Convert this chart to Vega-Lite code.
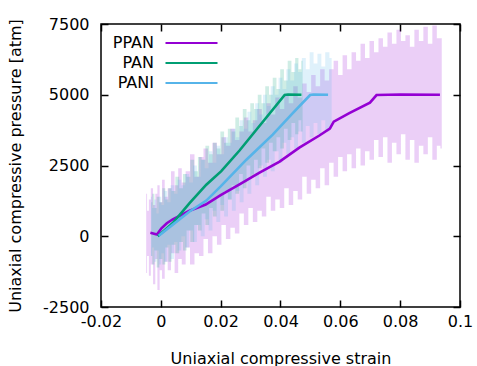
{
  "$schema": "https://vega.github.io/schema/vega-lite/v6.json",
  "width": 359,
  "height": 283,
  "autosize": {"type": "none"},
  "padding": {"left": 101, "top": 24, "right": 17, "bottom": 59},
  "config": {
    "view": {"stroke": "#000", "strokeWidth": 1.5},
    "font": "DejaVu Sans",
    "axis": {"grid": false, "domain": false, "tickColor": "#000", "tickWidth": 1.5, "labelColor": "#000", "titleColor": "#000", "labelFontSize": 16, "titleFontSize": 16, "titleFontWeight": "normal", "labelFont": "DejaVu Sans", "titleFont": "DejaVu Sans", "labelFlush": false, "labelOverlap": false}
  },
  "datasets": {
    "bands": [
      {"band": "PPAN", "strain": -0.0049, "lo": -1300, "hi": 1500},
      {"band": "PPAN", "strain": -0.0043, "lo": -700, "hi": 900},
      {"band": "PPAN", "strain": -0.0037, "lo": -1400, "hi": 1300},
      {"band": "PPAN", "strain": -0.003, "lo": -1000, "hi": 1700},
      {"band": "PPAN", "strain": -0.0022, "lo": -1700, "hi": 1100},
      {"band": "PPAN", "strain": -0.0015, "lo": -800, "hi": 1500},
      {"band": "PPAN", "strain": -0.0008, "lo": -1900, "hi": 1800},
      {"band": "PPAN", "strain": 0.0, "lo": -1200, "hi": 1200},
      {"band": "PPAN", "strain": 0.0008, "lo": -1500, "hi": 2000},
      {"band": "PPAN", "strain": 0.0018, "lo": -900, "hi": 1400},
      {"band": "PPAN", "strain": 0.0028, "lo": -1200, "hi": 1700},
      {"band": "PPAN", "strain": 0.004, "lo": -600, "hi": 2300},
      {"band": "PPAN", "strain": 0.0052, "lo": -1300, "hi": 1800},
      {"band": "PPAN", "strain": 0.0064, "lo": -800, "hi": 2400},
      {"band": "PPAN", "strain": 0.0076, "lo": -1000, "hi": 1900},
      {"band": "PPAN", "strain": 0.009, "lo": -400, "hi": 2300},
      {"band": "PPAN", "strain": 0.0105, "lo": -1000, "hi": 2900},
      {"band": "PPAN", "strain": 0.012, "lo": -600, "hi": 2100},
      {"band": "PPAN", "strain": 0.0135, "lo": -700, "hi": 2800},
      {"band": "PPAN", "strain": 0.015, "lo": -100, "hi": 3100},
      {"band": "PPAN", "strain": 0.0165, "lo": -600, "hi": 2600},
      {"band": "PPAN", "strain": 0.018, "lo": 0, "hi": 3300},
      {"band": "PPAN", "strain": 0.0195, "lo": -300, "hi": 2900},
      {"band": "PPAN", "strain": 0.021, "lo": 400, "hi": 3500},
      {"band": "PPAN", "strain": 0.0225, "lo": -100, "hi": 3200},
      {"band": "PPAN", "strain": 0.024, "lo": 300, "hi": 3800},
      {"band": "PPAN", "strain": 0.0255, "lo": 100, "hi": 3400},
      {"band": "PPAN", "strain": 0.027, "lo": 800, "hi": 3700},
      {"band": "PPAN", "strain": 0.0285, "lo": 400, "hi": 4200},
      {"band": "PPAN", "strain": 0.03, "lo": 1000, "hi": 3700},
      {"band": "PPAN", "strain": 0.0315, "lo": 500, "hi": 4100},
      {"band": "PPAN", "strain": 0.033, "lo": 900, "hi": 4500},
      {"band": "PPAN", "strain": 0.0345, "lo": 700, "hi": 4000},
      {"band": "PPAN", "strain": 0.036, "lo": 1400, "hi": 4700},
      {"band": "PPAN", "strain": 0.0375, "lo": 900, "hi": 4300},
      {"band": "PPAN", "strain": 0.039, "lo": 1300, "hi": 4900},
      {"band": "PPAN", "strain": 0.0405, "lo": 1000, "hi": 4500},
      {"band": "PPAN", "strain": 0.042, "lo": 1700, "hi": 5000},
      {"band": "PPAN", "strain": 0.0435, "lo": 1100, "hi": 4700},
      {"band": "PPAN", "strain": 0.045, "lo": 1600, "hi": 5300},
      {"band": "PPAN", "strain": 0.0465, "lo": 1300, "hi": 4900},
      {"band": "PPAN", "strain": 0.048, "lo": 2100, "hi": 5400},
      {"band": "PPAN", "strain": 0.0495, "lo": 1500, "hi": 5100},
      {"band": "PPAN", "strain": 0.051, "lo": 2000, "hi": 5700},
      {"band": "PPAN", "strain": 0.0525, "lo": 1700, "hi": 5300},
      {"band": "PPAN", "strain": 0.054, "lo": 2400, "hi": 5900},
      {"band": "PPAN", "strain": 0.0555, "lo": 1800, "hi": 5500},
      {"band": "PPAN", "strain": 0.057, "lo": 2600, "hi": 5900},
      {"band": "PPAN", "strain": 0.0585, "lo": 2100, "hi": 6200},
      {"band": "PPAN", "strain": 0.06, "lo": 2800, "hi": 5700},
      {"band": "PPAN", "strain": 0.0615, "lo": 2300, "hi": 6400},
      {"band": "PPAN", "strain": 0.063, "lo": 2900, "hi": 5900},
      {"band": "PPAN", "strain": 0.0645, "lo": 2400, "hi": 6500},
      {"band": "PPAN", "strain": 0.066, "lo": 3100, "hi": 6200},
      {"band": "PPAN", "strain": 0.0675, "lo": 2500, "hi": 6800},
      {"band": "PPAN", "strain": 0.069, "lo": 3000, "hi": 6300},
      {"band": "PPAN", "strain": 0.0705, "lo": 2700, "hi": 6900},
      {"band": "PPAN", "strain": 0.072, "lo": 3400, "hi": 6500},
      {"band": "PPAN", "strain": 0.0735, "lo": 2800, "hi": 7000},
      {"band": "PPAN", "strain": 0.075, "lo": 3500, "hi": 6700},
      {"band": "PPAN", "strain": 0.0765, "lo": 2600, "hi": 7200},
      {"band": "PPAN", "strain": 0.078, "lo": 3300, "hi": 6800},
      {"band": "PPAN", "strain": 0.0795, "lo": 2900, "hi": 7300},
      {"band": "PPAN", "strain": 0.081, "lo": 3600, "hi": 6900},
      {"band": "PPAN", "strain": 0.0825, "lo": 2700, "hi": 7100},
      {"band": "PPAN", "strain": 0.084, "lo": 3400, "hi": 6700},
      {"band": "PPAN", "strain": 0.0855, "lo": 2600, "hi": 7300},
      {"band": "PPAN", "strain": 0.087, "lo": 3200, "hi": 6900},
      {"band": "PPAN", "strain": 0.0885, "lo": 2900, "hi": 7400},
      {"band": "PPAN", "strain": 0.09, "lo": 3500, "hi": 6800},
      {"band": "PPAN", "strain": 0.0915, "lo": 2700, "hi": 7450},
      {"band": "PPAN", "strain": 0.093, "lo": 3200, "hi": 7000},
      {"band": "PPAN", "strain": 0.0939, "lo": 3100, "hi": 7000},
      {"band": "PAN", "strain": -0.0032, "lo": -700, "hi": 1200},
      {"band": "PAN", "strain": -0.0025, "lo": -1000, "hi": 1500},
      {"band": "PAN", "strain": -0.0018, "lo": -500, "hi": 1000},
      {"band": "PAN", "strain": -0.001, "lo": -1100, "hi": 1400},
      {"band": "PAN", "strain": 0.0, "lo": -800, "hi": 1200},
      {"band": "PAN", "strain": 0.001, "lo": -1000, "hi": 1700},
      {"band": "PAN", "strain": 0.002, "lo": -400, "hi": 1300},
      {"band": "PAN", "strain": 0.003, "lo": -900, "hi": 1700},
      {"band": "PAN", "strain": 0.0042, "lo": -300, "hi": 1600},
      {"band": "PAN", "strain": 0.0055, "lo": -600, "hi": 2100},
      {"band": "PAN", "strain": 0.0068, "lo": -200, "hi": 1700},
      {"band": "PAN", "strain": 0.008, "lo": -500, "hi": 2200},
      {"band": "PAN", "strain": 0.0092, "lo": 200, "hi": 2100},
      {"band": "PAN", "strain": 0.0105, "lo": -200, "hi": 2700},
      {"band": "PAN", "strain": 0.0118, "lo": 400, "hi": 2300},
      {"band": "PAN", "strain": 0.013, "lo": 200, "hi": 2800},
      {"band": "PAN", "strain": 0.0143, "lo": 800, "hi": 2700},
      {"band": "PAN", "strain": 0.0155, "lo": 400, "hi": 3200},
      {"band": "PAN", "strain": 0.0168, "lo": 1000, "hi": 2900},
      {"band": "PAN", "strain": 0.018, "lo": 700, "hi": 3300},
      {"band": "PAN", "strain": 0.0193, "lo": 1400, "hi": 3100},
      {"band": "PAN", "strain": 0.0205, "lo": 900, "hi": 3700},
      {"band": "PAN", "strain": 0.0218, "lo": 1600, "hi": 3300},
      {"band": "PAN", "strain": 0.023, "lo": 1300, "hi": 3800},
      {"band": "PAN", "strain": 0.0243, "lo": 1800, "hi": 3700},
      {"band": "PAN", "strain": 0.0255, "lo": 1500, "hi": 4200},
      {"band": "PAN", "strain": 0.0268, "lo": 2200, "hi": 3900},
      {"band": "PAN", "strain": 0.028, "lo": 1700, "hi": 4500},
      {"band": "PAN", "strain": 0.0293, "lo": 2500, "hi": 4100},
      {"band": "PAN", "strain": 0.0305, "lo": 2100, "hi": 4700},
      {"band": "PAN", "strain": 0.0318, "lo": 2700, "hi": 4500},
      {"band": "PAN", "strain": 0.033, "lo": 2400, "hi": 5000},
      {"band": "PAN", "strain": 0.0343, "lo": 3100, "hi": 4700},
      {"band": "PAN", "strain": 0.0355, "lo": 2600, "hi": 5300},
      {"band": "PAN", "strain": 0.0368, "lo": 3300, "hi": 5000},
      {"band": "PAN", "strain": 0.038, "lo": 3000, "hi": 5600},
      {"band": "PAN", "strain": 0.0393, "lo": 3500, "hi": 5200},
      {"band": "PAN", "strain": 0.0405, "lo": 3100, "hi": 5900},
      {"band": "PAN", "strain": 0.0418, "lo": 3800, "hi": 5500},
      {"band": "PAN", "strain": 0.043, "lo": 3400, "hi": 6200},
      {"band": "PAN", "strain": 0.0443, "lo": 4000, "hi": 5800},
      {"band": "PAN", "strain": 0.0455, "lo": 3600, "hi": 6300},
      {"band": "PAN", "strain": 0.0465, "lo": 4100, "hi": 5900},
      {"band": "PAN", "strain": 0.0474, "lo": 3700, "hi": 6200},
      {"band": "PANI", "strain": -0.0033, "lo": -700, "hi": 1400},
      {"band": "PANI", "strain": -0.0026, "lo": -400, "hi": 1000},
      {"band": "PANI", "strain": -0.0019, "lo": -900, "hi": 1300},
      {"band": "PANI", "strain": -0.0011, "lo": -500, "hi": 800},
      {"band": "PANI", "strain": -0.0003, "lo": -1000, "hi": 1400},
      {"band": "PANI", "strain": 0.0006, "lo": -600, "hi": 1100},
      {"band": "PANI", "strain": 0.0016, "lo": -900, "hi": 1600},
      {"band": "PANI", "strain": 0.0027, "lo": -300, "hi": 1200},
      {"band": "PANI", "strain": 0.0038, "lo": -800, "hi": 1800},
      {"band": "PANI", "strain": 0.005, "lo": -200, "hi": 1500},
      {"band": "PANI", "strain": 0.0062, "lo": -500, "hi": 2000},
      {"band": "PANI", "strain": 0.0075, "lo": 0, "hi": 1800},
      {"band": "PANI", "strain": 0.0088, "lo": -400, "hi": 2200},
      {"band": "PANI", "strain": 0.0101, "lo": 200, "hi": 1900},
      {"band": "PANI", "strain": 0.0114, "lo": -200, "hi": 2500},
      {"band": "PANI", "strain": 0.0127, "lo": 400, "hi": 2100},
      {"band": "PANI", "strain": 0.014, "lo": 0, "hi": 2700},
      {"band": "PANI", "strain": 0.0153, "lo": 600, "hi": 2400},
      {"band": "PANI", "strain": 0.0166, "lo": 200, "hi": 3000},
      {"band": "PANI", "strain": 0.0179, "lo": 900, "hi": 2600},
      {"band": "PANI", "strain": 0.0192, "lo": 500, "hi": 3200},
      {"band": "PANI", "strain": 0.0205, "lo": 1100, "hi": 2900},
      {"band": "PANI", "strain": 0.0218, "lo": 700, "hi": 3500},
      {"band": "PANI", "strain": 0.0231, "lo": 1300, "hi": 3300},
      {"band": "PANI", "strain": 0.0244, "lo": 900, "hi": 3800},
      {"band": "PANI", "strain": 0.0257, "lo": 1600, "hi": 3500},
      {"band": "PANI", "strain": 0.027, "lo": 1200, "hi": 4100},
      {"band": "PANI", "strain": 0.0283, "lo": 1900, "hi": 3800},
      {"band": "PANI", "strain": 0.0296, "lo": 1500, "hi": 4400},
      {"band": "PANI", "strain": 0.0309, "lo": 2200, "hi": 4000},
      {"band": "PANI", "strain": 0.0322, "lo": 1800, "hi": 4700},
      {"band": "PANI", "strain": 0.0335, "lo": 2500, "hi": 4300},
      {"band": "PANI", "strain": 0.0348, "lo": 2100, "hi": 5000},
      {"band": "PANI", "strain": 0.0361, "lo": 2700, "hi": 4600},
      {"band": "PANI", "strain": 0.0374, "lo": 2300, "hi": 5300},
      {"band": "PANI", "strain": 0.0387, "lo": 3000, "hi": 5000},
      {"band": "PANI", "strain": 0.04, "lo": 2600, "hi": 5600},
      {"band": "PANI", "strain": 0.0413, "lo": 3300, "hi": 5200},
      {"band": "PANI", "strain": 0.0426, "lo": 2900, "hi": 5900},
      {"band": "PANI", "strain": 0.0439, "lo": 3500, "hi": 5500},
      {"band": "PANI", "strain": 0.0452, "lo": 3100, "hi": 6100},
      {"band": "PANI", "strain": 0.0465, "lo": 3700, "hi": 5800},
      {"band": "PANI", "strain": 0.0478, "lo": 3300, "hi": 6300},
      {"band": "PANI", "strain": 0.0491, "lo": 3900, "hi": 5900},
      {"band": "PANI", "strain": 0.0504, "lo": 3500, "hi": 6500},
      {"band": "PANI", "strain": 0.0517, "lo": 4000, "hi": 6100},
      {"band": "PANI", "strain": 0.053, "lo": 3600, "hi": 6450},
      {"band": "PANI", "strain": 0.0543, "lo": 4100, "hi": 6000},
      {"band": "PANI", "strain": 0.0556, "lo": 3700, "hi": 6500},
      {"band": "PANI", "strain": 0.0571, "lo": 3800, "hi": 6300}
    ],
    "lines": [
      {"series": "PPAN", "strain": -0.0035, "p": 120},
      {"series": "PPAN", "strain": -0.0013, "p": 60},
      {"series": "PPAN", "strain": 0.0002, "p": 280},
      {"series": "PPAN", "strain": 0.002, "p": 460},
      {"series": "PPAN", "strain": 0.004, "p": 600},
      {"series": "PPAN", "strain": 0.0096, "p": 900},
      {"series": "PPAN", "strain": 0.015, "p": 1120},
      {"series": "PPAN", "strain": 0.02, "p": 1450},
      {"series": "PPAN", "strain": 0.0263, "p": 1830},
      {"series": "PPAN", "strain": 0.033, "p": 2250},
      {"series": "PPAN", "strain": 0.0397, "p": 2640},
      {"series": "PPAN", "strain": 0.0463, "p": 3130},
      {"series": "PPAN", "strain": 0.053, "p": 3560},
      {"series": "PPAN", "strain": 0.0565, "p": 3800},
      {"series": "PPAN", "strain": 0.0578, "p": 4050},
      {"series": "PPAN", "strain": 0.063, "p": 4350},
      {"series": "PPAN", "strain": 0.0699, "p": 4720},
      {"series": "PPAN", "strain": 0.0721, "p": 4990},
      {"series": "PPAN", "strain": 0.08, "p": 5010},
      {"series": "PPAN", "strain": 0.0933, "p": 5000},
      {"series": "PAN", "strain": -0.001, "p": 0},
      {"series": "PAN", "strain": 0.004, "p": 466},
      {"series": "PAN", "strain": 0.0096, "p": 1173},
      {"series": "PAN", "strain": 0.0152, "p": 1820},
      {"series": "PAN", "strain": 0.0202, "p": 2300},
      {"series": "PAN", "strain": 0.0263, "p": 3030},
      {"series": "PAN", "strain": 0.0414, "p": 4990},
      {"series": "PAN", "strain": 0.0425, "p": 5010},
      {"series": "PAN", "strain": 0.047, "p": 5000},
      {"series": "PANI", "strain": -0.0007, "p": 20},
      {"series": "PANI", "strain": 0.004, "p": 410},
      {"series": "PANI", "strain": 0.0096, "p": 876},
      {"series": "PANI", "strain": 0.0152, "p": 1260},
      {"series": "PANI", "strain": 0.02, "p": 1760},
      {"series": "PANI", "strain": 0.0286, "p": 2705},
      {"series": "PANI", "strain": 0.0374, "p": 3590},
      {"series": "PANI", "strain": 0.0441, "p": 4350},
      {"series": "PANI", "strain": 0.0499, "p": 4990},
      {"series": "PANI", "strain": 0.051, "p": 5010},
      {"series": "PANI", "strain": 0.0559, "p": 5000}
    ]
  },
  "layer": [
    {
      "data": {"name": "bands"},
      "mark": {"type": "area", "opacity": 0.19, "interpolate": "step"},
      "encoding": {
        "x": {"field": "strain", "type": "quantitative", "scale": {"domain": [-0.02, 0.1], "nice": false, "zero": false},
              "axis": {"orient": "top", "labels": false, "title": null, "tickSize": -7, "values": [-0.02, 0, 0.02, 0.04, 0.06, 0.08, 0.1]}},
        "y": {"field": "lo", "type": "quantitative", "scale": {"domain": [-2500, 7500], "nice": false, "zero": false},
              "axis": {"orient": "right", "labels": false, "title": null, "tickSize": -7, "values": [-2500, 0, 2500, 5000, 7500]}},
        "y2": {"field": "hi"},
        "fill": {"field": "band", "type": "nominal", "scale": {"domain": ["PAN", "PANI", "PPAN"], "range": ["#009e73", "#56b4e9", "#9400d3"]}, "legend": null}
      }
    },
    {
      "data": {"name": "lines"},
      "mark": {"type": "line", "strokeWidth": 2.6},
      "encoding": {
        "x": {"field": "strain", "type": "quantitative", "scale": {"domain": [-0.02, 0.1], "nice": false, "zero": false},
              "axis": {"orient": "bottom", "values": [-0.02, 0, 0.02, 0.04, 0.06, 0.08, 0.1], "labelExpr": "replace(format(datum.value, '~g'), '\u2212', '-')", "tickSize": -7, "labelPadding": 13, "title": "Uniaxial compressive strain", "titlePadding": 21}},
        "y": {"field": "p", "type": "quantitative", "scale": {"domain": [-2500, 7500], "nice": false, "zero": false},
              "axis": {"orient": "left", "values": [-2500, 0, 2500, 5000, 7500], "labelExpr": "replace(format(datum.value, 'd'), '\u2212', '-')", "tickSize": -7, "labelPadding": 19, "title": "Uniaxial compressive pressure [atm]", "titlePadding": 19}},
        "stroke": {"field": "series", "type": "nominal", "scale": {"domain": ["PPAN", "PAN", "PANI"], "range": ["#9400d3", "#009e73", "#56b4e9"]},
                   "legend": {"orient": "none", "legendX": 82.5, "legendY": 11, "title": null, "symbolType": "M-5.2,0H5.2", "symbolSize": 100, "symbolStrokeWidth": 2, "labelAlign": "right", "labelOffset": -45.5, "labelFontSize": 16, "labelFont": "DejaVu Sans", "labelColor": "#000", "rowPadding": 4, "padding": 0}}
      }
    }
  ],
  "resolve": {"axis": {"x": "independent", "y": "independent"}}
}
